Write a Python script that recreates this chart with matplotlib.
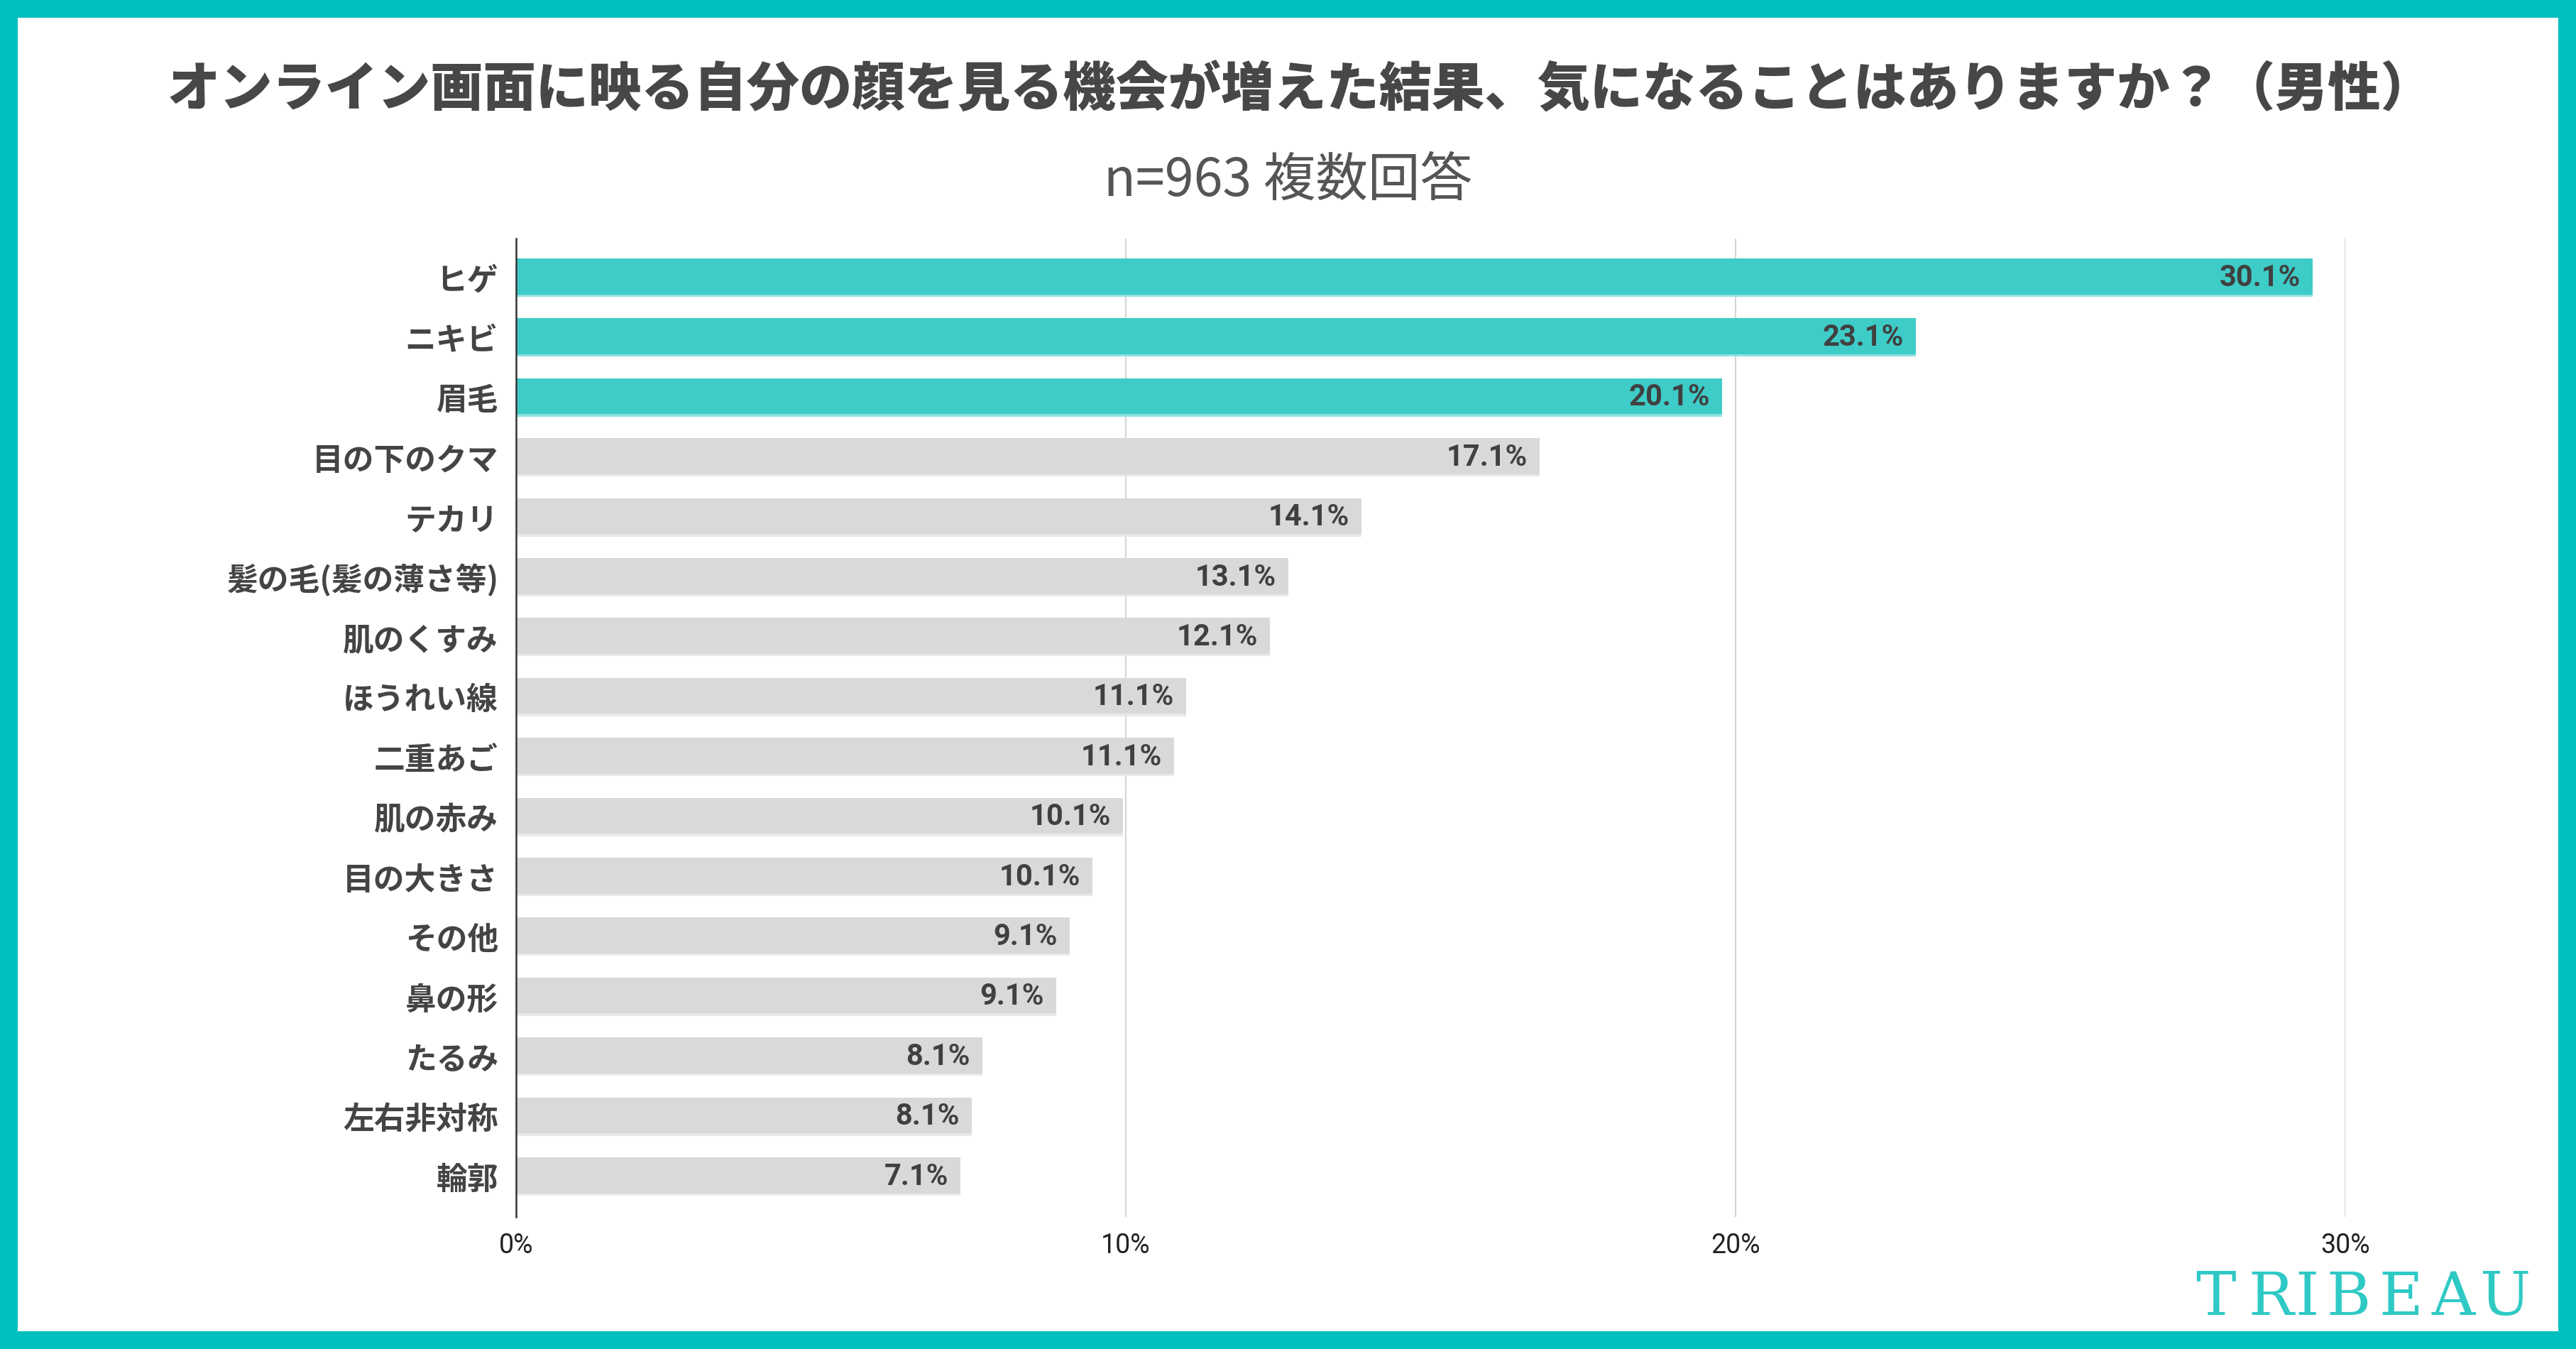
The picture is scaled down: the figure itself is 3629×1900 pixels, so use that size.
import matplotlib
matplotlib.use("Agg")
import matplotlib.pyplot as plt
from matplotlib.patches import Rectangle
import numpy as np

plt.rcParams['font.family'] = ['Noto Sans CJK JP', 'DejaVu Sans']

# data
categories = ["ヒゲ", "ニキビ", "眉毛", "目の下のクマ", "テカリ", "髪の毛(髪の薄さ等)",
              "肌のくすみ", "ほうれい線", "二重あご", "肌の赤み", "目の大きさ", "その他",
              "鼻の形", "たるみ", "左右非対称", "輪郭"]
# bar lengths as drawn (they run a little shorter than the printed labels)
bar_values = [29.47, 22.96, 19.78, 16.79, 13.87, 12.67, 12.36, 10.99,
              10.79, 9.95, 9.45, 9.08, 8.86, 7.65, 7.47, 7.29]
value_labels = ["30.1%", "23.1%", "20.1%", "17.1%", "14.1%", "13.1%", "12.1%", "11.1%",
                "11.1%", "10.1%", "10.1%", "9.1%", "9.1%", "8.1%", "8.1%", "7.1%"]
highlight = [True, True, True] + [False] * 13
x_ticks = [0, 10, 20, 30]

title = "オンライン画面に映る自分の顔を見る機会が増えた結果、気になることはありますか？（男性）"
subtitle = "n=963 複数回答"

TEAL = "#3ECCC8"
GRAY = "#D9D9D9"
FRAME = "#00BFBC"
TEXT = "#444444"

W, H = 3629, 1900
fig = plt.figure(figsize=(W / 100, H / 100), dpi=100)
fig.set_facecolor(FRAME)
b = 25
fig.add_artist(Rectangle((b / W, b / H), (W - 2 * b) / W, (H - 2 * b) / H,
                         transform=fig.transFigure, facecolor="white",
                         edgecolor="none", zorder=-1))

ax = fig.add_axes([727 / W, 1 - 1714 / H, (3304 - 727) / W, (1714 - 336) / H])
ax.set_facecolor("none")

y = np.arange(len(categories))
colors = [TEAL if h else GRAY for h in highlight]
ax.barh(y, bar_values, height=0.64, color=colors, zorder=2)
# light strip along the bottom of each bar
edge_cols = ["#8FE0DD" if h else "#E8E8E8" for h in highlight]
ax.barh(y + 0.30, bar_values, height=0.04, color=edge_cols, zorder=2)

for yi, v, lab in zip(y, bar_values, value_labels):
    ax.text(v - 0.2, yi, lab, ha="right", va="center", fontsize=30,
            fontweight="bold", family=["Roboto", "DejaVu Sans"], color="#404040", zorder=3)

ax.set_xlim(0, 30)
ax.set_ylim(15.675, -0.652)
ax.set_xticks(x_ticks)
ax.set_xticklabels([f"{t}%" for t in x_ticks], fontsize=27,
                   family=["Roboto", "DejaVu Sans"], color="#222222")
ax.set_yticks(y)
ax.set_yticklabels(categories, fontsize=31.5, fontweight="bold", color=TEXT)
ax.tick_params(axis="x", length=0, pad=16)
ax.tick_params(axis="y", length=0, pad=18)

for s in ["top", "right", "bottom"]:
    ax.spines[s].set_visible(False)
ax.spines["left"].set_color("#333333")
ax.spines["left"].set_linewidth(1.8)
ax.spines["left"].set_zorder(4)
ax.grid(axis="x", color="#D5D5D5", linewidth=1.5, zorder=1)
ax.set_axisbelow(True)

fig.text(0.5 + 18 / W, 1 - 127 / H, title, ha="center", va="center", fontsize=53.5,
         fontweight="black", color="#474747")
fig.text(0.5, 1 - 255 / H, subtitle, ha="center", va="center", fontsize=53,
         color="#555555")

# logo, letter by letter to get the wide tracking
logo_x = [3121, 3199, 3250, 3308, 3382, 3456, 3530]
for ch, lx in zip("TRIBEAU", logo_x):
    fig.text(lx / W, 1 - 1852 / H, ch, ha="center", va="baseline", fontsize=61,
             family="DejaVu Serif", color="#2FC9C5")

fig.savefig("out.png", dpi=100)
